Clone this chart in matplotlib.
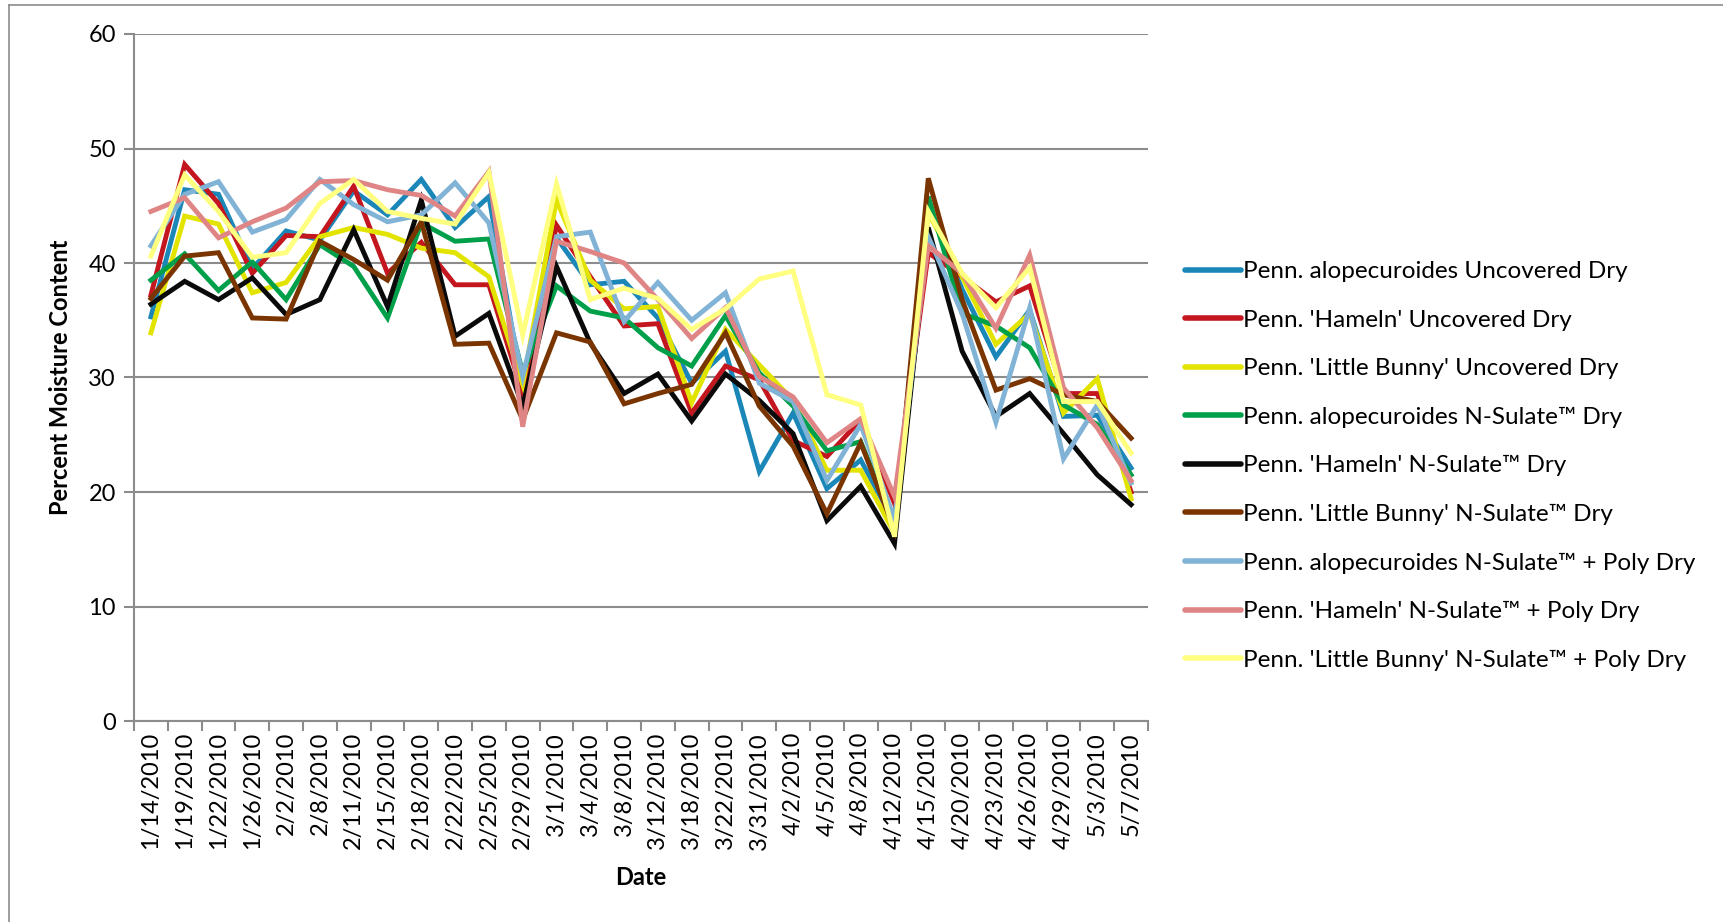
import numpy as np
import matplotlib.pyplot as plt

dates = ['1/14/2010', '1/19/2010', '1/22/2010', '1/26/2010', '2/2/2010', '2/8/2010',
         '2/11/2010', '2/15/2010', '2/18/2010', '2/22/2010', '2/25/2010', '2/29/2010',
         '3/1/2010', '3/4/2010', '3/8/2010', '3/12/2010', '3/18/2010', '3/22/2010',
         '3/31/2010', '4/2/2010', '4/5/2010', '4/8/2010', '4/12/2010', '4/15/2010',
         '4/20/2010', '4/23/2010', '4/26/2010', '4/29/2010', '5/3/2010', '5/7/2010']

alo_unc = [35.3, 46.4, 46.0, 39.5, 42.8, 42.0, 46.3, 44.2, 47.3, 43.1, 45.8, 29.0,
           42.2, 38.1, 38.4, 35.2, 29.5, 32.3, 21.8, 26.9, 20.3, 22.8, 17.3, 45.0,
           37.7, 31.8, 35.9, 26.6, 26.7, 22.1]
ham_unc = [37.2, 48.6, 45.2, 39.1, 42.4, 42.3, 46.7, 39.1, 41.8, 38.1, 38.1, 28.6,
           43.3, 38.8, 34.5, 34.7, 26.9, 31.0, 29.8, 24.5, 23.1, 26.3, 19.0, 40.9,
           38.8, 36.6, 38.0, 28.6, 28.6, 20.0]
lb_unc = [33.9, 44.1, 43.4, 37.4, 38.3, 42.3, 43.1, 42.5, 41.3, 40.9, 38.8, 29.4,
          45.5, 38.5, 36.0, 36.2, 27.8, 34.2, 31.1, 28.0, 21.9, 21.9, 16.4, 44.4,
          38.8, 32.9, 35.6, 26.9, 29.9, 19.4]
alo_ns = [38.5, 40.8, 37.6, 40.1, 36.8, 41.6, 39.7, 35.2, 43.5, 41.9, 42.1, 30.4,
          38.0, 35.8, 35.2, 32.6, 31.0, 35.4, 30.4, 27.5, 23.6, 24.4, 17.1, 45.8,
          35.6, 34.5, 32.6, 27.6, 25.9, 21.5]
ham_ns = [36.4, 38.4, 36.8, 38.7, 35.5, 36.8, 42.9, 36.2, 45.5, 33.6, 35.6, 27.5,
          39.7, 33.0, 28.6, 30.3, 26.2, 30.3, 28.0, 25.1, 17.5, 20.5, 15.5, 43.1,
          32.3, 26.6, 28.6, 25.1, 21.5, 18.9]
lb_ns = [36.9, 40.6, 40.9, 35.2, 35.1, 41.9, 40.3, 38.5, 43.6, 32.9, 33.0, 26.3,
         33.9, 33.1, 27.7, 28.6, 29.4, 33.9, 27.5, 24.0, 18.1, 24.3, 16.7, 47.4,
         36.8, 28.9, 29.9, 28.5, 27.9, 24.7]
alo_nsp = [41.5, 46.0, 47.1, 42.7, 43.8, 47.3, 45.1, 43.6, 44.2, 47.0, 43.5, 30.1,
           42.3, 42.7, 34.9, 38.3, 35.0, 37.4, 29.5, 27.9, 21.0, 25.9, 17.6, 42.3,
           35.6, 26.1, 36.1, 22.9, 27.6, 20.8]
ham_nsp = [44.5, 45.7, 42.2, 43.6, 44.8, 47.1, 47.2, 46.4, 45.9, 44.1, 48.0, 25.7,
           41.9, 41.0, 40.0, 36.8, 33.4, 36.1, 30.1, 28.3, 24.3, 26.4, 19.6, 41.5,
           39.1, 34.3, 40.7, 29.1, 25.6, 21.0]
lb_nsp = [40.6, 47.7, 44.5, 40.5, 40.9, 45.2, 47.3, 44.5, 43.9, 43.4, 47.9, 33.7,
          46.9, 36.8, 37.8, 36.9, 34.2, 36.0, 38.6, 39.3, 28.5, 27.6, 16.1, 44.5,
          39.1, 36.1, 39.6, 27.9, 27.9, 23.4]

series = [
    ("Penn. alopecuroides Uncovered Dry", alo_unc, '#1a87b8'),
    ("Penn. 'Hameln' Uncovered Dry", ham_unc, '#c3161f'),
    ("Penn. 'Little Bunny' Uncovered Dry", lb_unc, '#e3e300'),
    ("Penn. alopecuroides N-Sulate\u2122 Dry", alo_ns, '#00a04a'),
    ("Penn. 'Hameln' N-Sulate\u2122 Dry", ham_ns, '#0a0a0a'),
    ("Penn. 'Little Bunny' N-Sulate\u2122 Dry", lb_ns, '#7a3400'),
    ("Penn. alopecuroides N-Sulate\u2122 + Poly Dry", alo_nsp, '#80b3d6'),
    ("Penn. 'Hameln' N-Sulate\u2122 + Poly Dry", ham_nsp, '#e08585'),
    ("Penn. 'Little Bunny' N-Sulate\u2122 + Poly Dry", lb_nsp, '#ffff80'),
]

plt.rcParams['font.family'] = ['Lato', 'DejaVu Sans']

fig = plt.figure(figsize=(17.24, 9.22), dpi=100)
ax = fig.add_axes([134 / 1724, 1 - 721 / 922, (1148 - 134) / 1724, (721 - 34) / 922])

x = np.arange(len(dates))
for name, vals, col in series:
    ax.plot(x, vals, color=col, lw=3.5, label=name, solid_joinstyle='miter')

ax.set_xlim(-0.5, len(dates) - 0.5)
ax.set_ylim(0, 60)
ax.set_yticks(range(0, 61, 10))
ax.yaxis.grid(True, color='#8c8c8c', lw=1.5)
ax.set_axisbelow(True)

ax.set_xticks(x)
ax.set_xticklabels(dates, rotation=90, fontsize=17)
ax.set_xticks(np.arange(-0.5, len(dates), 1), minor=True)
ax.tick_params(axis='x', which='major', length=0, pad=8)
ax.tick_params(axis='x', which='minor', length=7, color='#8c8c8c', width=1.5)
ax.tick_params(axis='y', length=7, color='#8c8c8c', width=1.5, labelsize=17, pad=6)

for s in ['top', 'right']:
    ax.spines[s].set_visible(False)
for s in ['left', 'bottom']:
    ax.spines[s].set_color('#8c8c8c')
    ax.spines[s].set_linewidth(1.5)

ax.set_ylabel('Percent Moisture Content', fontsize=17, fontweight='bold', labelpad=12)
ax.set_xlabel('Date', fontsize=17, fontweight='bold', labelpad=12)

leg = fig.legend(loc='center left', bbox_to_anchor=(1185 / 1724, 1 - 466 / 922),
                 frameon=False, fontsize=17.5, handlelength=2.3, handletextpad=0.1,
                 labelspacing=1.13, borderpad=0, borderaxespad=0)
for h in leg.get_lines():
    h.set_linewidth(4)
    h.set_solid_capstyle('round')

# thin border around the chart area
fig.add_artist(plt.Line2D([9 / 1724, 9 / 1724], [0, 1 - 5 / 922], color='#8c8c8c', lw=1.2))
fig.add_artist(plt.Line2D([9 / 1724, 1], [1 - 5 / 922, 1 - 5 / 922], color='#8c8c8c', lw=1.2))

fig.savefig('out.png', dpi=100)
